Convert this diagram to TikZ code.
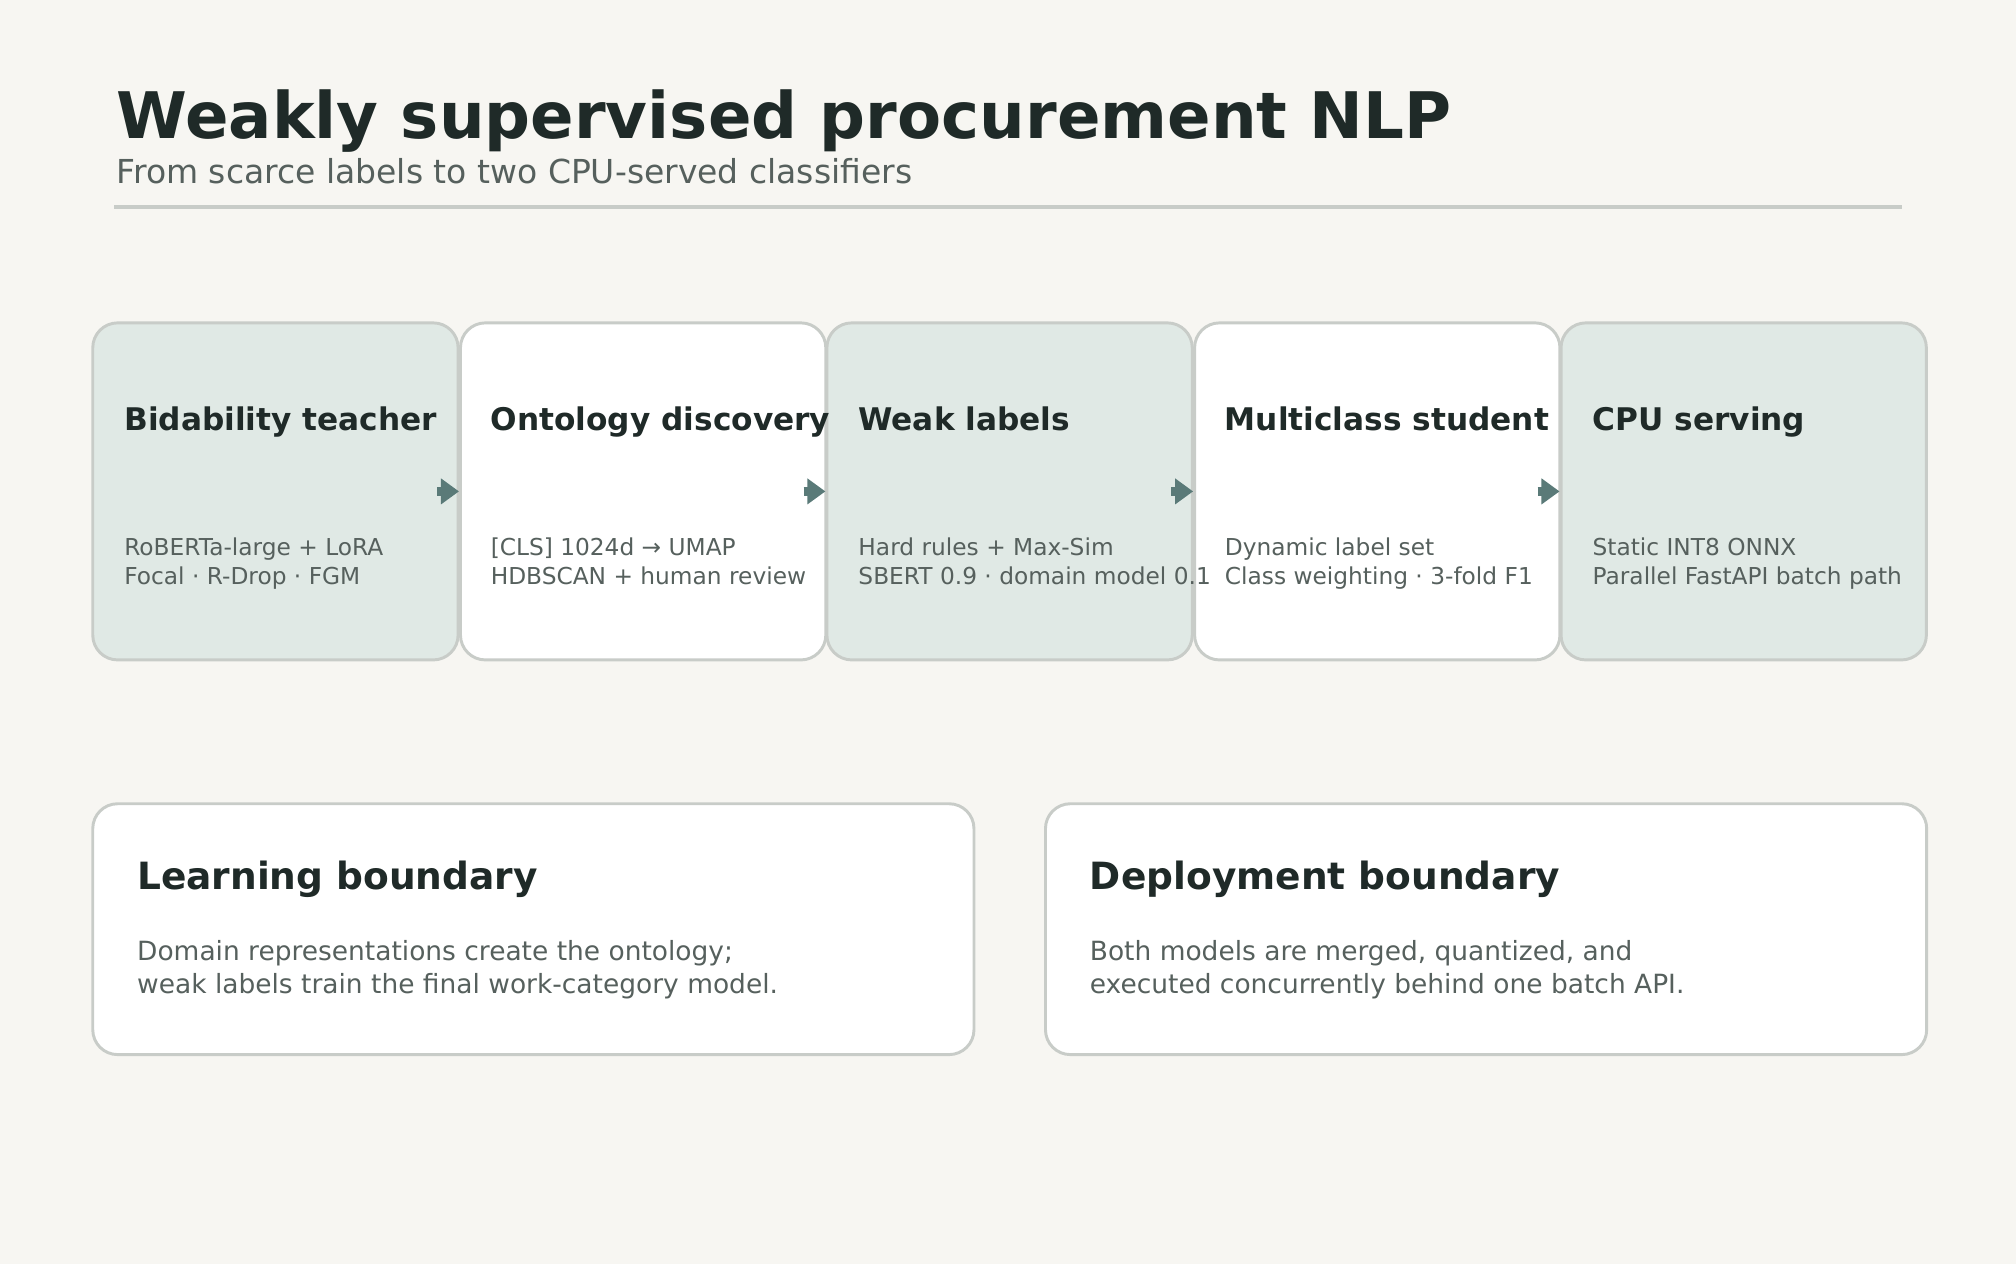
\documentclass[tikz,border=0pt]{standalone}
\usepackage{fontspec}
\setmainfont{DejaVu Sans}
\usetikzlibrary{positioning,arrows.meta}
\definecolor{bgpaper}{HTML}{F7F6F2}
\definecolor{inkdark}{HTML}{1F2A28}
\definecolor{inkgrey}{HTML}{56605D}
\definecolor{edgegrey}{HTML}{C8CCC8}
\definecolor{sagefill}{HTML}{E0E9E5}
\definecolor{arrowteal}{HTML}{5A7A78}
\tikzset{
	stage/.style={rectangle, draw=edgegrey, line width=0.65pt, rounded corners=5.5pt, minimum width=2.84cm, minimum height=2.62cm, anchor=north west},
	panel/.style={rectangle, draw=edgegrey, line width=0.65pt, fill=white, rounded corners=5.5pt, minimum width=6.85cm, minimum height=1.95cm, anchor=north west},
	stagetitle/.style={anchor=base west, inner sep=0pt, font=\fontsize{6.9pt}{8pt}\selectfont\bfseries, text=inkdark},
	stagebody/.style={anchor=base west, inner sep=0pt, font=\fontsize{5.15pt}{6.5pt}\selectfont, text=inkgrey, align=left},
	paneltitle/.style={anchor=base west, inner sep=0pt, font=\fontsize{8.3pt}{9pt}\selectfont\bfseries, text=inkdark},
	panelbody/.style={anchor=base west, inner sep=0pt, font=\fontsize{5.85pt}{7.4pt}\selectfont, text=inkgrey, align=left},
	flow/.style={-{Triangle[length=4pt,width=5.5pt]}, line width=2pt, draw=arrowteal}
}
\begin{document}
\begin{tikzpicture}[x=0.01cm, y=-0.01cm]
		
		%Background
		\fill[bgpaper] (0,0) rectangle (1568,983);
		\useasboundingbox (0,0) rectangle (1568,983);
		
		%Heading
		\node (title) at (90,108) [anchor=base west, inner sep=0pt, font=\fontsize{14.2pt}{16pt}\selectfont\bfseries, text=inkdark]{Weakly supervised procurement NLP};
		\node (subtitle) at (90,143) [anchor=base west, inner sep=0pt, font=\fontsize{7.3pt}{8pt}\selectfont, text=inkgrey]{From scarce labels to two CPU-served classifiers};
		\draw[edgegrey, line width=0.7pt] (89,161) -- (1479,161);
		
		%Stages
		\node (teacher) at (71,250) [stage, fill=sagefill]{};
		\node (ontology) at (357,250) [stage, fill=white]{};
		\node (weak) at (642,250) [stage, fill=sagefill]{};
		\node (student) at (928,250) [stage, fill=white]{};
		\node (serving) at (1213,250) [stage, fill=sagefill]{};
		
		\node (teachert) at (96,335) [stagetitle]{Bidability teacher};
		\node (teacherb) at (96,455) [stagebody]{RoBERTa-large + LoRA\\Focal · R-Drop · FGM};
		\node (ontologyt) at (381,335) [stagetitle]{Ontology discovery};
		\node (ontologyb) at (381,455) [stagebody]{[CLS] 1024d → UMAP\\HDBSCAN + human review};
		\node (weakt) at (667,335) [stagetitle]{Weak labels};
		\node (weakb) at (667,455) [stagebody]{Hard rules + Max-Sim\\SBERT 0.9 · domain model 0.1};
		\node (studentt) at (952,335) [stagetitle]{Multiclass student};
		\node (studentb) at (952,455) [stagebody]{Dynamic label set\\Class weighting · 3-fold F1};
		\node (servingt) at (1238,335) [stagetitle]{CPU serving};
		\node (servingb) at (1238,455) [stagebody]{Static INT8 ONNX\\Parallel FastAPI batch path};
		
		%Links
		\draw[flow] ([xshift=-0.17cm]ontology.west) -- (ontology.west);
		\draw[flow] ([xshift=-0.17cm]weak.west) -- (weak.west);
		\draw[flow] ([xshift=-0.17cm]student.west) -- (student.west);
		\draw[flow] ([xshift=-0.17cm]serving.west) -- (serving.west);
		
		%Boundaries
		\node (learning) at (71,624) [panel]{};
		\node (deployment) at (812,624) [panel]{};
		
		\node (learningt) at (106,692) [paneltitle]{Learning boundary};
		\node (learningb) at (106,773) [panelbody]{Domain representations create the ontology;\\weak labels train the final work-category model.};
		\node (deploymentt) at (847,692) [paneltitle]{Deployment boundary};
		\node (deploymentb) at (847,773) [panelbody]{Both models are merged, quantized, and\\executed concurrently behind one batch API.};
		
\end{tikzpicture}
\end{document}
